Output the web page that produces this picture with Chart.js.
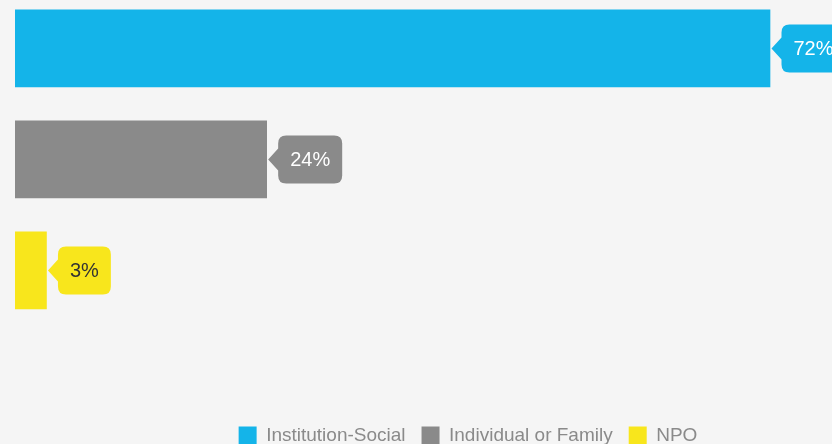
<!DOCTYPE html>
<html>
<head>
<meta charset="utf-8">
<script src="https://cdn.jsdelivr.net/npm/chart.js@4.4.1/dist/chart.umd.min.js"></script>
<style>
  html, body { margin: 0; padding: 0; background: #f5f5f5; overflow: hidden; }
  #wrap { position: relative; width: 936px; height: 455px; }
</style>
</head>
<body>
<div id="wrap"><canvas id="c"></canvas></div>
<script>
const categories = ['Institution-Social', 'Individual or Family', 'NPO'];
const values = [72, 24, 3];
const valueLabels = ['72%', '24%', '3%'];
const barColors = ['#14b4e9', '#8a8a8a', '#f8e61c'];
const labelTextColors = ['#ffffff', '#ffffff', '#333333'];
const xMax = 86.4;

const calloutPlugin = {
  id: 'callouts',
  afterDatasetsDraw(chart) {
    const ctx = chart.ctx;
    ctx.save();
    ctx.font = '20px "Liberation Sans", Arial, sans-serif';
    ctx.textBaseline = 'middle';
    ctx.textAlign = 'center';
    chart.data.datasets.forEach((ds, i) => {
      const meta = chart.getDatasetMeta(i);
      meta.data.forEach((bar) => {
        const text = valueLabels[i];
        const tw = ctx.measureText(text).width;
        const tipX = bar.x + 1.5;
        const cy = bar.y;
        const left = tipX + 10;
        const w = tw + 24;
        const h = 48;
        const top = cy - h / 2;
        const r = 8;
        const ph = 11;
        ctx.beginPath();
        ctx.moveTo(left + r, top);
        ctx.lineTo(left + w - r, top);
        ctx.quadraticCurveTo(left + w, top, left + w, top + r);
        ctx.lineTo(left + w, top + h - r);
        ctx.quadraticCurveTo(left + w, top + h, left + w - r, top + h);
        ctx.lineTo(left + r, top + h);
        ctx.quadraticCurveTo(left, top + h, left, top + h - r);
        ctx.lineTo(left, cy + ph);
        ctx.lineTo(tipX, cy);
        ctx.lineTo(left, cy - ph);
        ctx.lineTo(left, top + r);
        ctx.quadraticCurveTo(left, top, left + r, top);
        ctx.closePath();
        ctx.fillStyle = barColors[i];
        ctx.fill();
        ctx.fillStyle = labelTextColors[i];
        ctx.fillText(text, left + w / 2, cy + 1);
      });
    });
    ctx.restore();
  }
};

const datasets = categories.map((name, i) => ({
  label: name,
  data: [{ x: values[i], y: i }],
  backgroundColor: barColors[i],
  borderWidth: 0,
  barThickness: 77,
  grouped: false
}));

new Chart(document.getElementById('c'), {
  type: 'bar',
  data: { datasets },
  plugins: [calloutPlugin],
  options: {
    indexAxis: 'y',
    responsive: true,
    maintainAspectRatio: false,
    animation: false,
    layout: { padding: { left: 15, right: 15, top: 4, bottom: 0 } },
    scales: {
      x: { type: 'linear', min: 0, max: xMax, offset: false, display: false, grid: { display: false } },
      y: { type: 'linear', reverse: true, min: -0.4, max: 3.2577, offset: false, display: false, grid: { display: false, offset: false } }
    },
    plugins: {
      tooltip: { enabled: false },
      legend: {
        position: 'bottom',
        labels: {
          font: { family: '"Liberation Sans", Arial, sans-serif', size: 19 },
          color: '#8a8a8a',
          boxWidth: 18,
          boxHeight: 18,
          padding: 16
        }
      }
    }
  }
});
</script>
</body>
</html>
